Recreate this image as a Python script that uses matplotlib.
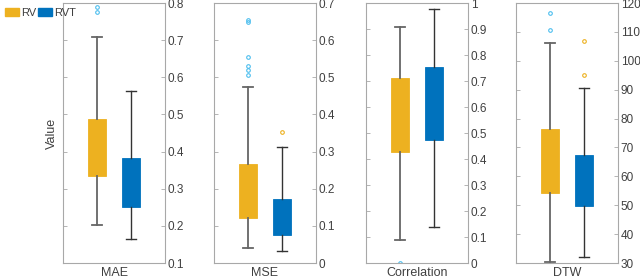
import matplotlib
matplotlib.use('Agg')
import matplotlib.pyplot as plt
from matplotlib.patches import Patch

plt.rcParams['font.family'] = ['Liberation Sans', 'DejaVu Sans']

metrics = ['MAE', 'MSE', 'Correlation', 'DTW']
groups = ['RV', 'RVT']

# five-number summaries: whislo, q1, q3, whishi
rv_stats = [[0.203, 0.334, 0.487, 0.709],
            [0.040, 0.120, 0.267, 0.474],
            [0.090, 0.427, 0.710, 0.909],
            [30.4, 54.3, 76.3, 106.3]]
rvt_stats = [[0.164, 0.250, 0.382, 0.563],
             [0.032, 0.076, 0.173, 0.313],
             [0.137, 0.474, 0.753, 0.978],
             [32.1, 49.6, 67.5, 90.7]]
rv_fliers = [[0.790, 0.776],
             [0.654, 0.649, 0.555, 0.531, 0.519, 0.505],
             [0.0],
             [116.4, 110.7]]
rvt_fliers = [[], [0.353], [], [106.7, 95.0]]

ylims = [(0.1, 0.8), (0, 0.7), (0, 1), (30, 120)]
yticks = [[0.1, 0.2, 0.3, 0.4, 0.5, 0.6, 0.7, 0.8],
          [0, 0.1, 0.2, 0.3, 0.4, 0.5, 0.6, 0.7],
          [0, 0.1, 0.2, 0.3, 0.4, 0.5, 0.6, 0.7, 0.8, 0.9, 1],
          [30, 40, 50, 60, 70, 80, 90, 100, 110, 120]]
yticklabels = [['0.1', '0.2', '0.3', '0.4', '0.5', '0.6', '0.7', '0.8'],
               ['0', '0.1', '0.2', '0.3', '0.4', '0.5', '0.6', '0.7'],
               ['0', '0.1', '0.2', '0.3', '0.4', '0.5', '0.6', '0.7', '0.8', '0.9', '1'],
               ['30', '40', '50', '60', '70', '80', '90', '100', '110', '120']]

yellow = '#EDB120'
blue = '#0072BD'
lightblue = '#4DBEEE'
spine_col = '#a8a8a8'
text_col = '#404040'

fig = plt.figure(figsize=(6.4, 2.78), dpi=100)
W, H = 640.0, 278.0
lefts = [63, 214, 366, 516]


def make_stat(s, fl):
    return dict(whislo=s[0], q1=s[1], med=(s[1] + s[2]) / 2, q3=s[2], whishi=s[3], fliers=fl)


for i in range(4):
    ax = fig.add_axes([lefts[i] / W, 15 / H, 102 / W, 260 / H])
    for k, (st, fl, fc, whc, flc) in enumerate([(rv_stats[i], rv_fliers[i], yellow, '#666666', lightblue),
                                               (rvt_stats[i], rvt_fliers[i], blue, '#333333', yellow)]):
        ax.bxp([make_stat(st, fl)], positions=[k + 1], widths=0.52, patch_artist=True,
               boxprops=dict(facecolor=fc, edgecolor=fc, linewidth=0.6),
               medianprops=dict(color=fc, linewidth=0),
               whiskerprops=dict(color=whc, linewidth=1.3 if k == 0 else 1.0, linestyle='-'),
               capprops=dict(color=whc, linewidth=1.3 if k == 0 else 1.0),
               capwidths=0.3,
               flierprops=dict(marker='o', markersize=2.6, markerfacecolor='none',
                               markeredgecolor=flc, markeredgewidth=0.8),
               manage_ticks=False)
    ax.set_xlim(0, 3)
    ax.set_ylim(ylims[i])
    ax.set_xticks([])
    ax.set_yticks(yticks[i])
    ax.set_yticklabels(yticklabels[i])
    ax.yaxis.tick_right()
    ax.tick_params(axis='y', which='both', direction='in', left=True, right=True,
                   length=3, width=0.6, color=spine_col, labelsize=8.5, labelcolor=text_col, pad=2)
    for sp in ax.spines.values():
        sp.set_color(spine_col)
        sp.set_linewidth(0.8)
    ax.set_xlabel(metrics[i], fontsize=9, color=text_col, labelpad=3)
    if i == 0:
        ax.set_ylabel('Value', fontsize=9, color=text_col, labelpad=4)

handles = [Patch(facecolor=yellow, edgecolor=yellow), Patch(facecolor=blue, edgecolor=blue)]
fig.legend(handles, groups, loc='upper left', bbox_to_anchor=(-0.005, 1.0), ncol=2, frameon=False,
           fontsize=8, handlelength=1.3, handleheight=0.8, handletextpad=0.15, columnspacing=0.2,
           labelcolor=text_col, borderaxespad=0.3)

fig.savefig('out.png', dpi=100)
